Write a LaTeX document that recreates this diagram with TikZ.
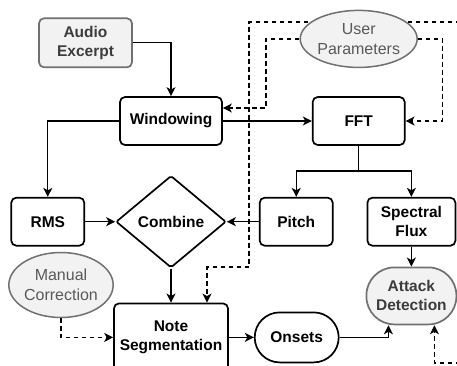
\documentclass[tikz,border=0pt]{standalone}
\usepackage{fontspec}
\setmainfont{Liberation Sans}
\usetikzlibrary{shapes.geometric, arrows.meta, positioning, backgrounds}

\definecolor{edgegray}{HTML}{707070}
\definecolor{textgray}{HTML}{3C3C3C}
\definecolor{softgray}{HTML}{F2F2F2}

\begin{document}
\begin{tikzpicture}[
    x=1pt, y=-1pt,
    block/.style={
        rectangle,
        draw=black,
        fill=white,
        rounded corners=5pt,
        minimum width=73pt,
        minimum height=48pt,
        inner sep=0pt,
        align=center,
        font=\fontsize{15.5}{19}\selectfont\bfseries,
        line width=1.7pt
    },
    source/.style={
        block,
        draw=edgegray,
        fill=softgray,
        text=textgray
    },
    param/.style={
        ellipse,
        draw=edgegray,
        fill=softgray,
        text=textgray!85,
        inner sep=0pt,
        align=center,
        font=\fontsize{16}{20}\selectfont,
        line width=1.5pt
    },
    decision/.style={
        diamond,
        draw=black,
        fill=white,
        rounded corners=2pt,
        inner sep=0pt,
        minimum width=110pt,
        minimum height=92pt,
        font=\fontsize{15.5}{19}\selectfont\bfseries,
        line width=1.7pt
    },
    arrow/.style={
        -{Stealth[length=9pt, width=9pt, inset=2.5pt]},
        line width=1.3pt,
        black
    },
    dasharrow/.style={
        arrow,
        dash pattern=on 4.5pt off 3.5pt
    }
]

\useasboundingbox (0,0) rectangle (457,365);

\node[block, minimum width=102pt] (windowing) at (171,121) {Windowing};
\node[source, minimum width=93pt, minimum height=49pt, above=28pt of windowing, xshift=-85.5pt] (audio) {Audio\\Excerpt};
\node[block, minimum width=92pt, right=89pt of windowing] (fft) {FFT};
\node[param, minimum width=98pt, minimum height=57pt, above=28pt of fft] (params) {User\\Parameters};

\node[decision, below=29pt of windowing] (combine) {Combine};
\node[block, left=30pt of combine] (rms) {RMS};
\node[block, right=32pt of combine] (pitch) {Pitch};
\node[block, minimum width=88pt, right=33pt of pitch] (flux) {Spectral\\Flux};
\node[source, rounded corners=28pt, minimum width=90pt, minimum height=57pt, below=20pt of flux] (attack) {Attack\\Detection};

\node[block, minimum width=114pt, minimum height=68pt, below=34pt of combine] (noteseg) {Note\\Segmentation};
\node[block, rounded corners=25pt, minimum width=84pt, minimum height=50pt, right=25pt of noteseg] (onsets) {Onsets};
\node[param, minimum width=94pt, minimum height=65pt] (manual) at (61,285) {Manual\\Correction};

\coordinate (fbtop) at (460,22);
\coordinate (fbbend) at (249,267);
\coordinate (fbbottom) at (460,363);

\draw[arrow] (audio.east) -| (windowing.north);
\draw[arrow] (windowing.west) -| (rms.north);
\draw[arrow] (windowing) -- (fft);
\draw[arrow] (fft.south) -- ++(0,25) coordinate (fork) -| (pitch.north);
\draw[arrow] (fork) -| (flux.north);
\draw[arrow] (rms) -- (combine);
\draw[arrow] (pitch) -- (combine);
\draw[arrow] (flux) -- (attack);
\draw[arrow] (combine) -- (noteseg);
\draw[arrow] (noteseg) -- (onsets);
\draw[arrow] (onsets.east) -| ([xshift=-23pt]attack.south);

\draw[dasharrow] (params.west) -| ([xshift=43pt, yshift=13pt]windowing.east) -- ([yshift=13pt]windowing.east);
\draw[dasharrow] (params.east) -| ([xshift=37pt]fft.east) -- (fft.east);
\draw[dasharrow] (manual.south) |- (noteseg.west);
\draw[dasharrow] (fbbottom) -| ([xshift=23pt]attack.south);

\begin{scope}[on background layer]
\draw[dasharrow] (fbtop) -| (fbbend) -| ([xshift=36pt]noteseg.north);
\end{scope}

\end{tikzpicture}
\end{document}
